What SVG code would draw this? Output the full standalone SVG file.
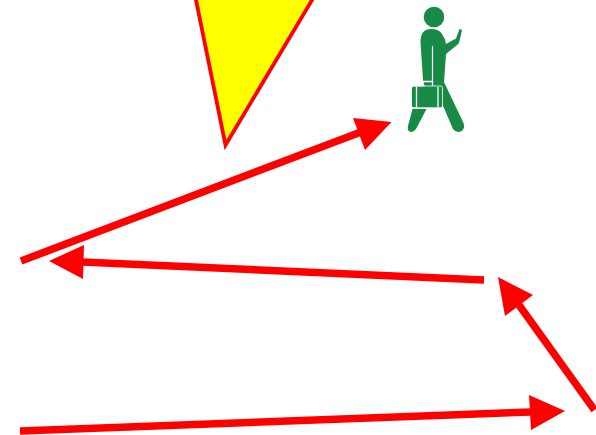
<svg xmlns="http://www.w3.org/2000/svg" width="596" height="435" viewBox="0 0 596 435">
<style>
.ln{fill:none;stroke:#f00;stroke-width:7.500}
.hd{fill:#f00}
.g{fill:#178a45}
.w{fill:none;stroke:#fff;stroke-width:1.300}
</style>
<rect width="596" height="435" fill="#fff"/>
<g id="triangle"><polygon points="195.200,-4 225.500,145 314.400,-4" fill="#ff0" stroke="#f00" stroke-width="3.800"/></g>
<g id="person">
<circle class="g" cx="434" cy="17" r="10.300"/>
<path class="g" d="M420.500 42Q420.500 29 431 29Q439 29 442 34Q445 38 446 44L456 38.500L459.500 29L462 30L459.500 41Q459 44 457 45L446 54L444 82L463.500 123Q465.500 129 461 131.500Q456 133 453 129L444 108L436 92L426 92L423 80Z"/>
<path fill="none" stroke="#fff" stroke-width="1.200" d="M432.500 46V82"/>
<rect class="g" x="412" y="86.500" width="30" height="21" rx="1.500"/>
<rect x="411.500" y="86" width="31" height="22" rx="2" fill="none" stroke="#fff" stroke-width="0.800"/>
<path class="w" d="M422.500 86V81.500H432.500V86M416.500 87V107M438 87V107"/>
<path class="g" d="M412.500 109H426.500L416 129Q413 133 409.500 131.500Q407 129.500 408 126Z"/>
</g>
<g id="connectors">
<path class="ln" d="M21 261L361 132"/>
<polygon class="hd" points="353,118 391.500,122 365,150"/>
<path class="ln" d="M484 280L82 262"/>
<polygon class="hd" points="84,245 49,261 83,279"/>
<path class="ln" d="M594.500 410L519 305"/>
<polygon class="hd" points="498,277 533,295 505,316"/>
<path class="ln" d="M20 431L531 412"/>
<polygon class="hd" points="529,395 565,411 531,430"/>
</g>
</svg>
